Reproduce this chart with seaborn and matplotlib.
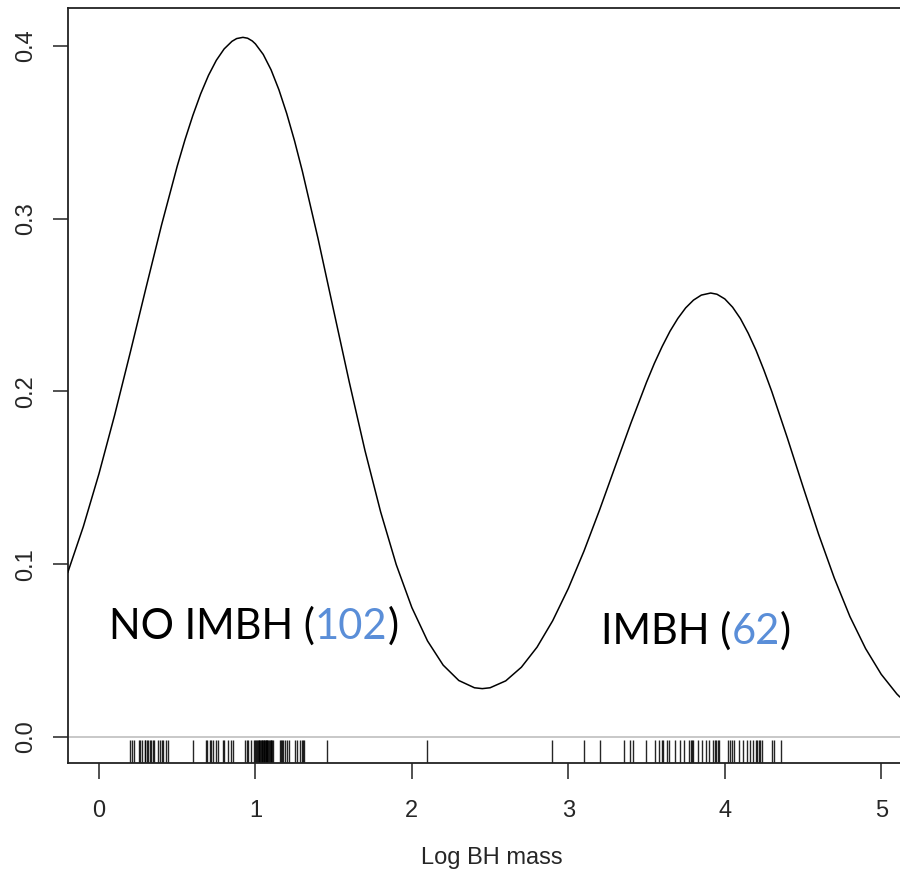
import matplotlib
matplotlib.use("Agg")
import matplotlib.pyplot as plt
import seaborn as sns
import pandas as pd

# ---- data ----
curve_x = [-0.2, -0.1, 0.0, 0.1, 0.2, 0.3, 0.4, 0.5, 0.55, 0.6, 0.65, 0.7, 0.75, 0.8, 0.85,
           0.88, 0.92, 0.95, 0.98, 1.0, 1.05, 1.1, 1.15, 1.2, 1.25, 1.3, 1.4, 1.5, 1.6, 1.7,
           1.8, 1.9, 2.0, 2.1, 2.2, 2.3, 2.4, 2.45, 2.5, 2.6, 2.7, 2.8, 2.9, 3.0, 3.1, 3.2,
           3.3, 3.4, 3.5, 3.55, 3.6, 3.65, 3.7, 3.75, 3.8, 3.85, 3.91, 3.95, 4.0, 4.05, 4.1,
           4.15, 4.2, 4.25, 4.3, 4.4, 4.5, 4.6, 4.7, 4.8, 4.9, 5.0, 5.1, 5.12]
curve_y = [0.0951, 0.1218, 0.1524, 0.1863, 0.2226, 0.2598, 0.2964, 0.3304, 0.3458, 0.3598,
           0.3723, 0.3830, 0.3917, 0.3983, 0.4027, 0.4043, 0.4050, 0.4045, 0.4029, 0.4012,
           0.3951, 0.3862, 0.3747, 0.3609, 0.3451, 0.3275, 0.2886, 0.2469, 0.2054, 0.1659,
           0.1304, 0.0998, 0.0749, 0.0556, 0.0416, 0.0327, 0.0285, 0.0280, 0.0285, 0.0325,
           0.0404, 0.0520, 0.0673, 0.0860, 0.1076, 0.1315, 0.1567, 0.1817, 0.2054, 0.2163,
           0.2261, 0.2349, 0.2423, 0.2484, 0.2529, 0.2558, 0.2570, 0.2563, 0.2536, 0.2488,
           0.2422, 0.2337, 0.2238, 0.2124, 0.2001, 0.1731, 0.1449, 0.1173, 0.0920, 0.0697,
           0.0512, 0.0363, 0.0249, 0.0231]

rug_no_imbh = [0.198, 0.213, 0.226, 0.259, 0.265, 0.272, 0.291, 0.297, 0.304, 0.315, 0.326,
               0.334, 0.343, 0.354, 0.375, 0.390, 0.401, 0.411, 0.426, 0.439, 0.599, 0.682,
               0.692, 0.710, 0.719, 0.731, 0.748, 0.763, 0.791, 0.799, 0.827, 0.842, 0.855,
               0.934, 0.944, 0.955, 0.970, 0.991, 0.997, 1.004, 1.010, 1.017, 1.020, 1.023,
               1.029, 1.036, 1.039, 1.042, 1.049, 1.052, 1.055, 1.061, 1.065, 1.068, 1.074,
               1.077, 1.081, 1.087, 1.093, 1.097, 1.100, 1.106, 1.113, 1.157, 1.164, 1.170,
               1.178, 1.189, 1.200, 1.217, 1.253, 1.264, 1.285, 1.295, 1.301, 1.311, 1.456,
               2.095]
rug_imbh = [2.894, 3.097, 3.203, 3.357, 3.395, 3.416, 3.494, 3.555, 3.577, 3.598, 3.608,
            3.630, 3.646, 3.680, 3.715, 3.737, 3.772, 3.782, 3.792, 3.800, 3.830, 3.852,
            3.877, 3.896, 3.926, 3.935, 3.945, 3.955, 3.964, 4.019, 4.031, 4.045, 4.060,
            4.088, 4.118, 4.143, 4.162, 4.180, 4.198, 4.207, 4.217, 4.226, 4.237, 4.300,
            4.316, 4.361]

x_ticks = [0, 1, 2, 3, 4, 5]
x_ticklabels = ["0", "1", "2", "3", "4", "5"]
y_ticks = [0.0, 0.1, 0.2, 0.3, 0.4]
y_ticklabels = ["0.0", "0.1", "0.2", "0.3", "0.4"]
x_label = "Log BH mass"
label_left = [("NO IMBH (", "black"), ("102", "#5A8ED8"), (")", "black")]
label_right = [("IMBH (", "black"), ("62", "#5A8ED8"), (")", "black")]

# ---- drawing ----
sns.set_style("ticks")
plt.rcParams["font.family"] = ["Liberation Sans", "DejaVu Sans"]

fig = plt.figure(figsize=(9, 8.82), dpi=100)
ax = fig.add_axes([68 / 900, 119 / 882, 832 / 900, 755 / 882])

curve = pd.DataFrame({"x": curve_x, "y": curve_y})
rug = pd.DataFrame({"x": rug_no_imbh + rug_imbh})

ax.axhline(0, color="#c4c4c4", lw=1.3, zorder=1)
sns.lineplot(data=curve, x="x", y="y", color="black", lw=1.1, sort=False,
             estimator=None, ax=ax, zorder=3)
sns.rugplot(data=rug, x="x", height=0.03, color="black", lw=1.4, alpha=0.85, ax=ax)

ax.set_xlim(-0.198, 5.12)
ax.set_ylim(-0.01505, 0.42199)
ax.set_xticks(x_ticks)
ax.set_xticklabels(x_ticklabels)
ax.set_yticks(y_ticks)
ax.set_yticklabels(y_ticklabels, rotation=90, va="center")
ax.set_ylabel("")
ax.set_xlabel(x_label, fontsize=17)
ax.xaxis.label.set_va("center")
ax.xaxis.set_label_coords((492 - 68) / 832, (763 - 858) / 755)

for s in ["left", "bottom", "top"]:
    ax.spines[s].set_color("#222222")
    ax.spines[s].set_linewidth(1.3)
    ax.spines[s].set_visible(True)
ax.spines["right"].set_visible(False)

ax.tick_params(axis="x", direction="out", length=11.5, width=1.2, color="#333333",
               labelsize=17, pad=15)
ax.tick_params(axis="y", direction="out", length=11, width=1.2, color="#333333",
               labelsize=17, pad=11)


def colored_text(x, y, parts, size):
    fig.canvas.draw()
    r = fig.canvas.get_renderer()
    cur = x
    for s, c in parts:
        t = ax.text(cur, y, s, color=c, fontsize=size, family=["Lato", "DejaVu Sans"],
                    va="baseline", ha="left", zorder=5)
        bb = t.get_window_extent(r)
        cur = ax.transData.inverted().transform((bb.x1, bb.y0))[0]


colored_text((109 - 99) / 156.4, (737 - 639) / 1727.5, label_left, 30)
colored_text((601 - 99) / 156.4, (737 - 644) / 1727.5, label_right, 30)

fig.savefig("out.png", dpi=100)
